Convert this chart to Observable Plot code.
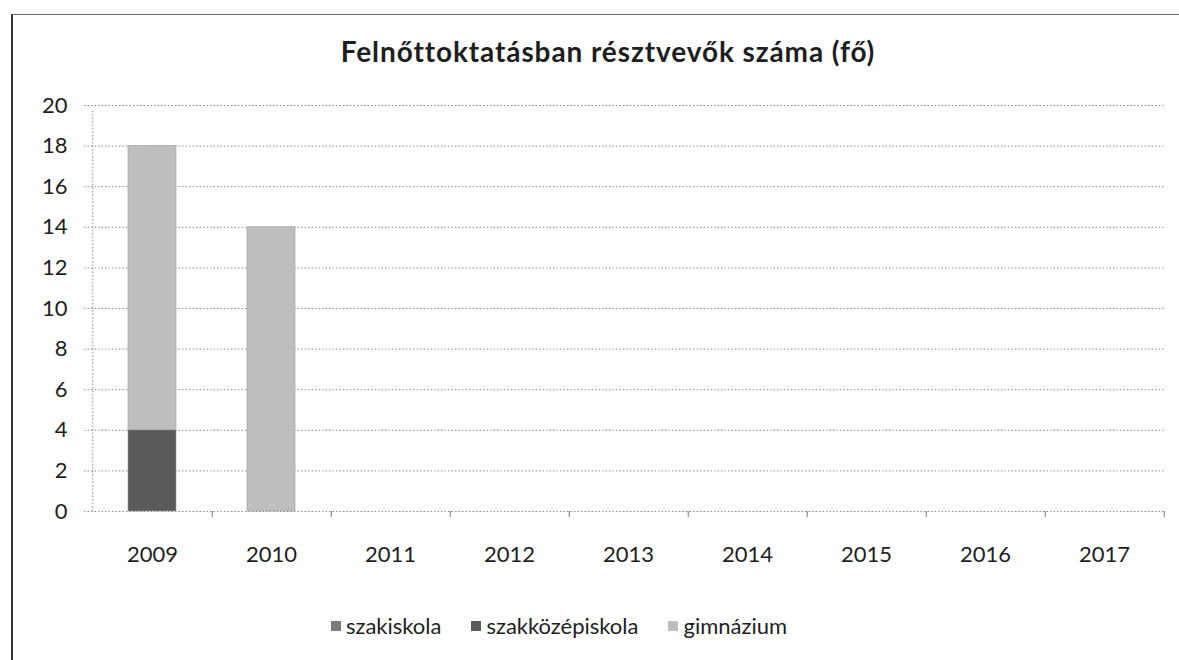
<!DOCTYPE html>
<html>
<head>
<meta charset="utf-8">
<script src="https://cdn.jsdelivr.net/npm/d3@7"></script>
<script src="https://cdn.jsdelivr.net/npm/@observablehq/plot@0.6"></script>
<style>
  html, body { margin: 0; padding: 0; background: #fff; }
  body { width: 1179px; height: 660px; position: relative; overflow: hidden; font-family: Lato, "Open Sans", sans-serif; color: #1e1e1e; }
  #frame { position: absolute; left: 11px; top: 14px; width: 1168px; height: 646px; border-left: 2px solid #333; border-top: 1px solid #666; box-sizing: border-box; }
  #title { position: absolute; top: 34px; left: 0; width: 1216px; text-align: center; font-weight: bold; font-size: 28px; letter-spacing: 0.9px; line-height: 34px; }
  #chart { position: absolute; left: 0; top: 0; }
  #legend { position: absolute; top: 612px; left: 0; width: 1118px; display: flex; justify-content: center; gap: 30px; font-size: 22px; }
  #legend .item { display: flex; align-items: center; }
  #legend .sw { width: 10px; height: 10px; margin-right: 5px; display: inline-block; }
</style>
</head>
<body>
<div id="frame"></div>
<div id="title">Felnőttoktatásban résztvevők száma (fő)</div>
<div id="chart"></div>
<div id="legend"></div>
<script>
const years = ["2009", "2010", "2011", "2012", "2013", "2014", "2015", "2016", "2017"];
const seriesNames = ["szakiskola", "szakközépiskola", "gimnázium"];
const szakiskola = [0, 0, 0, 0, 0, 0, 0, 0, 0];
const szakkozepiskola = [4, 0, 0, 0, 0, 0, 0, 0, 0];
const gimnazium = [14, 14, 0, 0, 0, 0, 0, 0, 0];
const yTicks = [0, 2, 4, 6, 8, 10, 12, 14, 16, 18, 20];
const colors = ["#7c7c7c", "#5a5a5a", "#bebebe"];

const seriesValues = [szakiskola, szakkozepiskola, gimnazium];
const rows = [];
seriesNames.forEach((s, si) => years.forEach((yr, i) => rows.push({year: yr, type: s, value: seriesValues[si][i]})));

const W = 1179, H = 600;
const mL = 90, mR = 14;
const step = (W - mL - mR) / years.length;

const plot = Plot.plot({
  width: W,
  height: H,
  marginTop: 105,
  marginBottom: 89,
  marginLeft: mL,
  marginRight: mR,
  style: {fontFamily: "Lato, 'Open Sans', sans-serif", fontSize: "22px", color: "#1e1e1e", background: "transparent"},
  x: {type: "band", domain: years, paddingInner: 0.6, paddingOuter: 0.3, tickSize: 0, tickPadding: 35, label: null},
  y: {domain: [0, 20], ticks: yTicks, tickSize: 0, tickPadding: 23, label: null},
  color: {domain: seriesNames, range: colors},
  marks: [
    Plot.ruleY(yTicks, {y: d => d, stroke: "#8a8a8a", strokeWidth: 1, strokeDasharray: "1.5,2", insetLeft: -6}),
    Plot.ruleX([years[0]], {x: d => d, dx: -step / 2, y1: 0, y2: 20, stroke: "#8a8a8a", strokeDasharray: "1.5,2", insetBottom: -6}),
    Plot.ruleX(years, {x: d => d, dx: step / 2, y1: 0, y2: 0, stroke: "#777", strokeWidth: 1, insetBottom: -6}),
    Plot.barY(rows, {x: "year", y: "value", fill: "type", order: seriesNames, stroke: "#9a9a9a", strokeWidth: 0.6})
  ]
});
document.getElementById("chart").appendChild(plot);

const legend = document.getElementById("legend");
seriesNames.forEach((s, i) => {
  const item = document.createElement("div");
  item.className = "item";
  const sw = document.createElement("span");
  sw.className = "sw";
  sw.style.background = colors[i];
  item.appendChild(sw);
  item.appendChild(document.createTextNode(s));
  legend.appendChild(item);
});
</script>
</body>
</html>
